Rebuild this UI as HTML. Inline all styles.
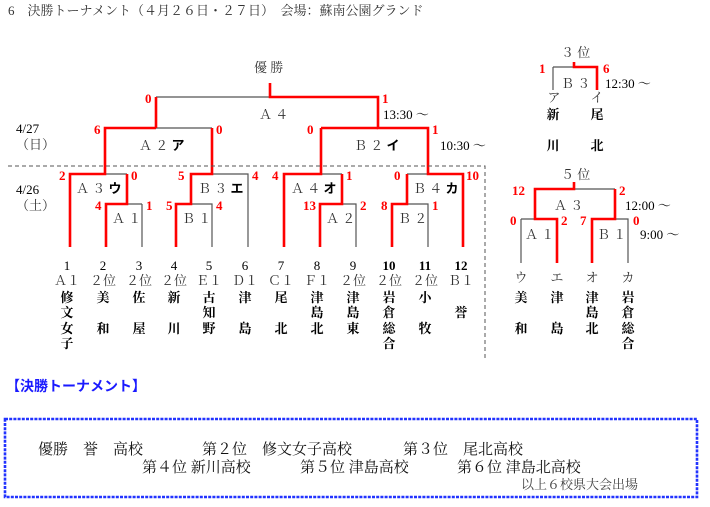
<!DOCTYPE html>
<html><head><meta charset="utf-8"><style>
html,body{margin:0;padding:0;background:#fff;}
svg{display:block;}
text{font-family:"Liberation Serif","Noto Serif CJK SC",serif;}
.s{font-family:"Liberation Sans","Noto Sans CJK JP",sans-serif;font-weight:bold;}
.r{fill:#f00;font-family:"Liberation Serif",serif;font-weight:bold;font-size:13px;}
.g{fill:#333;font-size:13px;}
.k{fill:#000;font-size:13px;}
.n{fill:#000;font-size:13px;font-family:"Liberation Sans","Noto Sans CJK JP",sans-serif;font-weight:bold;}
</style></head><body>
<svg width="710" height="507" viewBox="0 0 710 507" xmlns="http://www.w3.org/2000/svg">
<text x="8" y="15" class="g" font-size="14">6　決勝トーナメント（４月２６日・２７日）　会場：蘇南公園グランド</text>

<g fill="none" stroke="#555" stroke-width="1.2">
<path d="M156 97H270 M156 97V128 M212 128V174 M321 128V174"/>
<path d="M105 128H212 M321 128H378"/>
<path d="M105 174H127 M142 204V247 M106 204H142 M212 174H248V247 M191 204H212V247"/>
<path d="M321 174H342 M342 204H356V247 M407 174H427 M392 204H428V247"/>
<path d="M553 67H574 M553 67V90"/>
<path d="M574 189H615 M521 219H535 M521 219V263 M615 219H628V263"/>
</g>
<g fill="none" stroke="#f00" stroke-width="2.6" stroke-linejoin="miter">
<path d="M270 83V97H378V128H428V174H463V247"/>
<path d="M156 97V128"/>
<path d="M156 128H105V174H70V247"/>
<path d="M378 128H321"/>
<path d="M212 128V174H191V204H176V247"/>
<path d="M127 174V204H106V247"/>
<path d="M321 128V174H284V247"/>
<path d="M342 174V204H320V247"/>
<path d="M407 174V204H392V247"/>
<path d="M574 62V67H597V90"/>
<path d="M574 182V189H535V219H557V263"/>
<path d="M615 189V219H592V263"/>
</g>
<g stroke="#555" stroke-width="1" stroke-dasharray="4,3" fill="none">
<path d="M8 166H485V360"/>
</g>

<text x="254" y="72" class="g" font-size="14">優 勝</text>
<text x="259" y="119" class="g">Ａ ４</text>
<text x="383" y="119" class="k">13:30 ～</text>
<text x="139" y="150" class="g">Ａ ２ <tspan class="s" fill="#000">ア</tspan></text>
<text x="354" y="150" class="g">Ｂ ２ <tspan class="s" fill="#000">イ</tspan></text>
<text x="440" y="150" class="k">10:30 ～</text>
<text x="16" y="133" class="k">4/27</text>
<text x="16" y="149" class="g">（日）</text>
<text x="16" y="194" class="k">4/26</text>
<text x="16" y="210" class="g">（土）</text>
<text x="76" y="193" class="g">Ａ ３ <tspan class="s" fill="#000">ウ</tspan></text>
<text x="198" y="193" class="g">Ｂ ３ <tspan class="s" fill="#000">エ</tspan></text>
<text x="291" y="193" class="g">Ａ ４ <tspan class="s" fill="#000">オ</tspan></text>
<text x="413" y="193" class="g">Ｂ ４ <tspan class="s" fill="#000">カ</tspan></text>
<text x="112" y="223" class="g">Ａ １</text>
<text x="182" y="223" class="g">Ｂ １</text>
<text x="326" y="223" class="g">Ａ ２</text>
<text x="398" y="223" class="g">Ｂ ２</text>

<g class="r">
<text x="145" y="103">0</text><text x="382" y="103">1</text>
<text x="94" y="134">6</text><text x="216" y="134">0</text>
<text x="307" y="134">0</text><text x="432" y="134">1</text>
<text x="59" y="180">2</text><text x="131" y="180">0</text>
<text x="178" y="180">5</text><text x="252" y="180">4</text>
<text x="272" y="180">4</text><text x="346" y="180">1</text>
<text x="394" y="180">0</text><text x="466" y="180">10</text>
<text x="95" y="210">4</text><text x="146" y="210">1</text>
<text x="166" y="210">5</text><text x="216" y="210">4</text>
<text x="303" y="210">13</text><text x="360" y="210">2</text>
<text x="381" y="210">8</text><text x="432" y="210">1</text>
<text x="539" y="73">1</text><text x="603" y="73">6</text>
<text x="512" y="195">12</text><text x="619" y="195">2</text>
<text x="510" y="225">0</text><text x="561" y="225">2</text>
<text x="580" y="225">7</text><text x="633" y="225">0</text>
</g>

<g class="k" text-anchor="middle">
<text x="67" y="270">1</text><text x="103" y="270">2</text><text x="139" y="270">3</text><text x="174" y="270">4</text>
<text x="209" y="270">5</text><text x="245" y="270">6</text><text x="281" y="270">7</text><text x="317" y="270">8</text>
<text x="353" y="270">9</text><text x="389" y="270" font-weight="bold">10</text><text x="425" y="270" font-weight="bold">11</text><text x="461" y="270" font-weight="bold">12</text>
</g>
<g class="g" text-anchor="middle">
<text x="67" y="285">Ａ１</text><text x="103" y="285">２位</text><text x="139" y="285">２位</text><text x="174" y="285">２位</text>
<text x="209" y="285">Ｅ１</text><text x="245" y="285">Ｄ１</text><text x="281" y="285">Ｃ１</text><text x="317" y="285">Ｆ１</text>
<text x="353" y="285">２位</text><text x="389" y="285">２位</text><text x="425" y="285">２位</text><text x="461" y="285">Ｂ１</text>
</g>
<g class="n" text-anchor="middle">
<text x="67" y="302">修</text><text x="67" y="317">文</text><text x="67" y="333">女</text><text x="67" y="348">子</text>
<text x="103" y="302">美</text><text x="103" y="333">和</text>
<text x="139" y="302">佐</text><text x="139" y="333">屋</text>
<text x="174" y="302">新</text><text x="174" y="333">川</text>
<text x="209" y="302">古</text><text x="209" y="317">知</text><text x="209" y="333">野</text>
<text x="245" y="302">津</text><text x="245" y="333">島</text>
<text x="281" y="302">尾</text><text x="281" y="333">北</text>
<text x="317" y="302">津</text><text x="317" y="317">島</text><text x="317" y="333">北</text>
<text x="353" y="302">津</text><text x="353" y="317">島</text><text x="353" y="333">東</text>
<text x="389" y="302">岩</text><text x="389" y="317">倉</text><text x="389" y="333">総</text><text x="389" y="348">合</text>
<text x="425" y="302">小</text><text x="425" y="333">牧</text>
<text x="461" y="317">誉</text>
</g>

<text x="561" y="57" class="g" font-size="14">３ 位</text>
<text x="561" y="88" class="g">Ｂ ３</text>
<text x="605" y="88" class="k">12:30 ～</text>
<g class="g" text-anchor="middle"><text x="554" y="102">ア</text><text x="597" y="102">イ</text></g>
<g class="n" text-anchor="middle">
<text x="553" y="119">新</text><text x="553" y="150">川</text>
<text x="597" y="119">尾</text><text x="597" y="150">北</text>
</g>
<text x="561" y="179" class="g" font-size="14">５ 位</text>
<text x="554" y="210" class="g">Ａ ３</text>
<text x="625" y="210" class="k">12:00 ～</text>
<text x="525" y="239" class="g">Ａ １</text>
<text x="597" y="239" class="g">Ｂ １</text>
<text x="640" y="239" class="k">9:00 ～</text>
<g class="g" text-anchor="middle"><text x="521" y="282">ウ</text><text x="557" y="282">エ</text><text x="592" y="282">オ</text><text x="628" y="282">カ</text></g>
<g class="n" text-anchor="middle">
<text x="521" y="302">美</text><text x="521" y="333">和</text>
<text x="557" y="302">津</text><text x="557" y="333">島</text>
<text x="592" y="302">津</text><text x="592" y="317">島</text><text x="592" y="333">北</text>
<text x="628" y="302">岩</text><text x="628" y="317">倉</text><text x="628" y="333">総</text><text x="628" y="348">合</text>
</g>

<text x="6" y="391" font-size="14" class="s" style="fill:#1a1aff">【決勝トーナメント】</text>
<rect x="5" y="419" width="692" height="78" fill="none" stroke="#2233ff" stroke-width="2.6" stroke-dasharray="3,1.2"/>
<g fill="#111" font-size="15" style="font-family:'Liberation Serif','Noto Serif CJK JP',serif">
<text x="38" y="454">優勝　誉　高校</text>
<text x="202" y="454">第２位　修文女子高校</text>
<text x="403" y="454">第３位　尾北高校</text>
<text x="142" y="472">第４位 新川高校</text>
<text x="300" y="472">第５位 津島高校</text>
<text x="457" y="472">第６位 津島北高校</text>
</g>
<text x="521" y="489" fill="#444" font-size="13">以上６校県大会出場</text>
</svg>
</body></html>
